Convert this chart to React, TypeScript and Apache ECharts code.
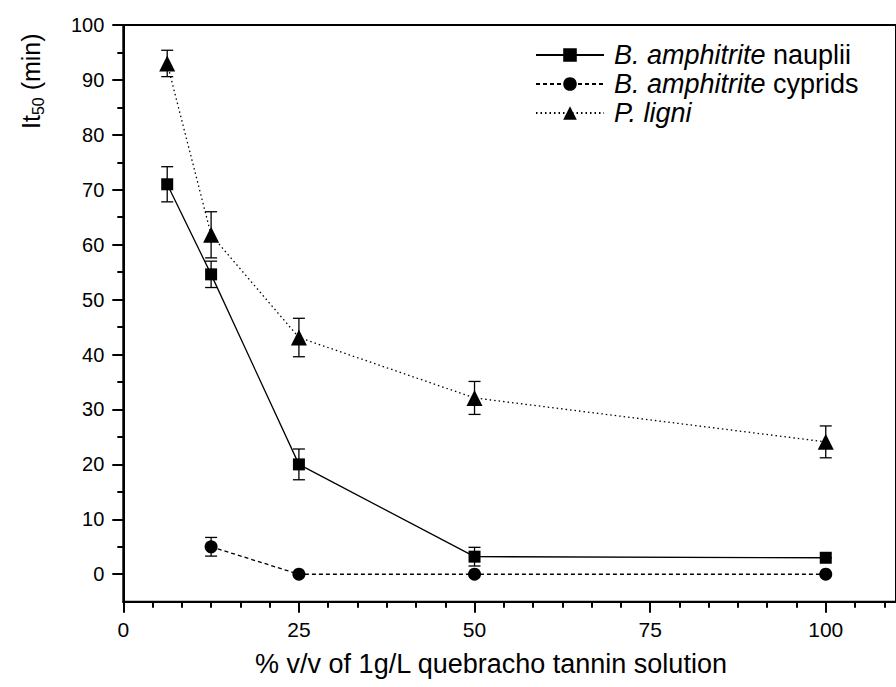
import React, { useEffect, useRef } from "react";
import * as echarts from "echarts";

const concentrations = [6.25, 12.5, 25, 50, 100];
const naupliiMean = [71, 54.6, 20, 3.2, 3.0];
const naupliiErr = [3.2, 2.4, 2.8, 1.7, 0];
const cypridConc = [12.5, 25, 50, 100];
const cypridMean = [5, 0, 0, 0];
const cypridErr = [1.7, 0, 0, 0];
const ligniMean = [93, 61.8, 43.1, 32.1, 24.1];
const ligniErr = [2.4, 4.2, 3.5, 3.0, 2.9];

const xMajorTicks = [0, 25, 50, 75, 100];
const yMajorTicks = [0, 10, 20, 30, 40, 50, 60, 70, 80, 90, 100];

const seriesNames = [
  "B. amphitrite nauplii",
  "B. amphitrite cyprids",
  "P. ligni",
];
const legendLabels: Record<string, string> = {
  "B. amphitrite nauplii": "{i|B. amphitrite}{n| nauplii}",
  "B. amphitrite cyprids": "{i|B. amphitrite}{n| cyprids}",
  "P. ligni": "{i|P. ligni}",
};
const xTitle = "% v/v of 1g/L quebracho tannin solution";
const yTitleParts = ["It", "50", " (min)"];

const FONT = "'Liberation Sans', Arial, sans-serif";

function measure(text: string, size: number) {
  const c = document.createElement("canvas").getContext("2d");
  if (!c) return text.length * size * 0.5;
  c.font = `${size}px "Liberation Sans", Arial, sans-serif`;
  return c.measureText(text).width;
}

function errorSeries(xs: number[], means: number[], errs: number[]) {
  const data = xs.map((x, i) => [x, means[i] - errs[i], means[i] + errs[i]]);
  return {
    type: "custom",
    z: 1,
    silent: true,
    renderItem: (params: any, api: any) => {
      const x = api.value(0);
      const lo = api.coord([x, api.value(1)]);
      const hi = api.coord([x, api.value(2)]);
      const hw = 6;
      const style = { stroke: "#000", lineWidth: 1.3 };
      return {
        type: "group",
        children: [
          { type: "line", shape: { x1: lo[0], y1: lo[1], x2: hi[0], y2: hi[1] }, style },
          { type: "line", shape: { x1: lo[0] - hw, y1: lo[1], x2: lo[0] + hw, y2: lo[1] }, style },
          { type: "line", shape: { x1: hi[0] - hw, y1: hi[1], x2: hi[0] + hw, y2: hi[1] }, style },
        ],
      };
    },
    encode: { x: 0, y: [1, 2] },
    data,
  };
}

export default function App() {
  const ref = useRef<HTMLDivElement>(null);
  useEffect(() => {
    if (!ref.current) return;
    const chart = echarts.init(ref.current, null, { renderer: "svg" });
    const xMinorStep = 25 / 6;
    const xMinor: number[] = [];
    for (let k = 1; k * xMinorStep < 110; k++) {
      if (k % 6 !== 0) xMinor.push(+(k * xMinorStep).toFixed(4));
    }
    const yMinor: number[] = [];
    for (let v = 5; v < 100; v += 10) yMinor.push(v);

    const gridPos = { left: 123.3, top: 25, bottom: 85.3, right: -8.3 };

    const ySize = 25;
    const subSize = 16;
    const w0 = measure(yTitleParts[0], ySize);
    const w1 = measure(yTitleParts[1], subSize);
    const yTitleX = 31;
    const yTitleBottom = 129;

    const tickStyle = { color: "#000", width: 2 };

    const rotText = (text: string, size: number, x: number, y: number) => ({
      type: "text",
      x,
      y,
      rotation: Math.PI / 2,
      style: {
        text,
        fontSize: size,
        fontFamily: FONT,
        fill: "#000",
        textAlign: "left",
        textVerticalAlign: "middle",
      },
    });

    const option: any = {
      animation: false,
      backgroundColor: "#fff",
      textStyle: { fontFamily: FONT, color: "#000" },
      grid: [
        { ...gridPos, show: true, borderColor: "#000", borderWidth: 2, containLabel: false },
        { ...gridPos, show: false, containLabel: false },
      ],
      xAxis: [
        {
          type: "value",
          gridIndex: 0,
          min: 0,
          max: 110,
          position: "bottom",
          splitLine: { show: false },
          axisLine: { show: true, onZero: false, lineStyle: { color: "#000", width: 2 } },
          axisTick: { show: true, customValues: xMajorTicks, length: 11, lineStyle: tickStyle },
          axisLabel: { customValues: xMajorTicks, color: "#000", fontSize: 21, fontFamily: FONT, margin: 17 },
        },
        {
          type: "value",
          gridIndex: 1,
          min: 0,
          max: 110,
          position: "bottom",
          splitLine: { show: false },
          axisLine: { show: false, onZero: false },
          axisTick: { show: true, customValues: xMinor, length: 6, lineStyle: tickStyle },
          axisLabel: { show: false },
        },
      ],
      yAxis: [
        {
          type: "value",
          gridIndex: 0,
          min: -5,
          max: 100,
          position: "left",
          splitLine: { show: false },
          axisLine: { show: true, onZero: false, lineStyle: { color: "#000", width: 2 } },
          axisTick: { show: true, customValues: yMajorTicks, length: 11, lineStyle: tickStyle },
          axisLabel: { customValues: yMajorTicks, color: "#000", fontSize: 20, fontFamily: FONT, margin: 19 },
        },
        {
          type: "value",
          gridIndex: 1,
          min: -5,
          max: 100,
          position: "left",
          splitLine: { show: false },
          axisLine: { show: false, onZero: false },
          axisTick: { show: true, customValues: yMinor, length: 6, lineStyle: tickStyle },
          axisLabel: { show: false },
        },
      ],
      legend: {
        orient: "vertical",
        left: 530,
        top: 36,
        itemWidth: 68,
        itemHeight: 17,
        itemGap: 1,
        data: seriesNames,
        formatter: (name: string) => legendLabels[name],
        textStyle: {
          fontSize: 27,
          lineHeight: 28,
          fontFamily: FONT,
          color: "#000",
          padding: [0, 0, 0, 5],
          rich: {
            i: { fontSize: 27, lineHeight: 28, fontStyle: "italic", fontFamily: FONT, color: "#000" },
            n: { fontSize: 27, lineHeight: 28, fontFamily: FONT, color: "#000" },
          },
        },
      },
      graphic: [
        {
          type: "text",
          x: 491,
          y: 664,
          style: {
            text: xTitle,
            fontSize: 27,
            fontFamily: FONT,
            fill: "#000",
            textAlign: "center",
            textVerticalAlign: "middle",
          },
        },
        rotText(yTitleParts[0], ySize, yTitleX, yTitleBottom),
        rotText(yTitleParts[1], subSize, yTitleX + 7, yTitleBottom - w0),
        rotText(yTitleParts[2], ySize, yTitleX, yTitleBottom - w0 - w1),
      ],
      series: [
        errorSeries(concentrations, naupliiMean, naupliiErr),
        errorSeries(cypridConc, cypridMean, cypridErr),
        errorSeries(concentrations, ligniMean, ligniErr),
        {
          name: seriesNames[0],
          type: "line",
          z: 2,
          data: concentrations.map((x, i) => [x, naupliiMean[i]]),
          symbol: "rect",
          symbolSize: 12,
          itemStyle: { color: "#000" },
          lineStyle: { color: "#000", width: 1.3, type: "solid" },
        },
        {
          name: seriesNames[1],
          type: "line",
          z: 2,
          data: cypridConc.map((x, i) => [x, cypridMean[i]]),
          symbol: "circle",
          symbolSize: 13,
          itemStyle: { color: "#000" },
          lineStyle: { color: "#000", width: 1.3, type: [4, 3] },
        },
        {
          name: seriesNames[2],
          type: "line",
          z: 2,
          data: concentrations.map((x, i) => [x, ligniMean[i]]),
          symbol: "triangle",
          symbolSize: 16,
          itemStyle: { color: "#000" },
          lineStyle: { color: "#000", width: 1.3, type: [1.5, 3] },
        },
      ],
    };
    chart.setOption(option);
    return () => chart.dispose();
  }, []);
  return (
    <div
      ref={ref}
      style={{ position: "fixed", left: 0, top: 0, width: 896, height: 687 }}
    />
  );
}
